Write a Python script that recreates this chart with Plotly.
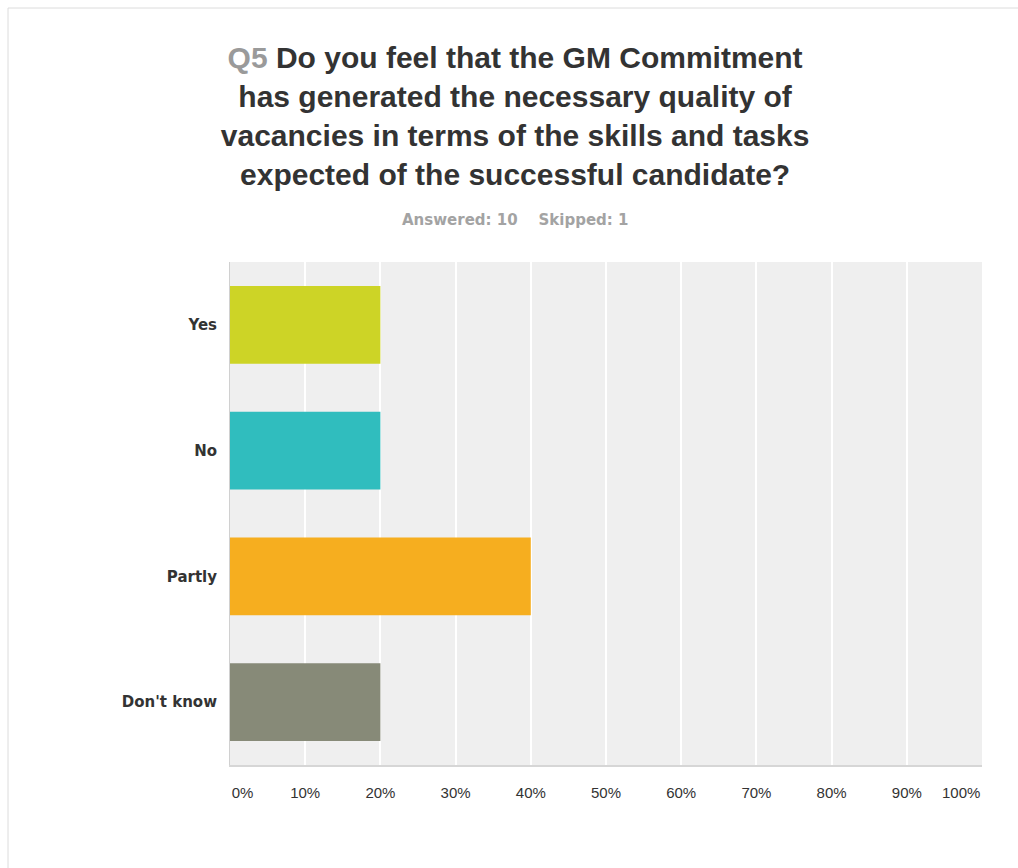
import plotly.graph_objects as go

# Survey responses (share of respondents, %)
answers = ["Yes", "No", "Partly", "Don't know"]
shares = [20, 20, 40, 20]
bar_colors = ["#cdd426", "#30bdbe", "#f6ae1f", "#878a78"]
tick_values = [0, 10, 20, 30, 40, 50, 60, 70, 80, 90, 100]
tick_labels = ["0%", "10%", "20%", "30%", "40%", "50%", "60%", "70%", "80%", "90%", "100%"]

W, H = 1018, 868
L, R, T, B = 230, 36, 262, 103
NB = "&nbsp;"
TICK_FONT = dict(family="Liberation Sans, Arial, sans-serif", size=15, color="#333333")

# First label starts at the axis origin; the last one is right-aligned to the
# axis end (drawn separately below) so both stay within the plot width
shown_labels = list(tick_labels)
shown_labels[0] = NB * 6 + tick_labels[0]
shown_labels[-1] = ""

fig = go.Figure(
    go.Bar(
        x=shares,
        y=answers,
        orientation="h",
        width=0.62,
        marker=dict(color=bar_colors, line=dict(width=0)),
        hoverinfo="x+y",
    )
)

fig.update_layout(
    width=W,
    height=H,
    margin=dict(l=L, r=R, t=T, b=B, autoexpand=False),
    paper_bgcolor="white",
    plot_bgcolor="#efefef",
    showlegend=False,
    title=dict(
        text=("<span style='color:#9a9a9a'>Q5</span> Do you feel that the GM Commitment<br>"
              "has generated the necessary quality of<br>"
              "vacancies in terms of the skills and tasks<br>"
              "expected of the successful candidate?"),
        font=dict(family="Liberation Sans, Arial, sans-serif", size=30, color="#333333",
                  weight="bold"),
        xref="container", x=0.506, xanchor="center",
        yref="container", y=1 - 68 / H, yanchor="top",
        pad=dict(t=0, b=0),
    ),
    xaxis=dict(
        range=[0, 100],
        tickvals=tick_values,
        ticktext=shown_labels,
        automargin=False,
        showgrid=True,
        gridcolor="white",
        gridwidth=2,
        zeroline=False,
        showline=True,
        linecolor="#d6d6d6",
        linewidth=2,
        ticks="",
        ticklabelstandoff=13,
        tickfont=TICK_FONT,
        fixedrange=True,
    ),
    yaxis=dict(
        autorange="reversed",
        automargin=False,
        showgrid=False,
        zeroline=False,
        showline=True,
        linecolor="#d0d0d0",
        linewidth=1,
        ticks="",
        ticklabelstandoff=9,
        tickfont=dict(family="DejaVu Sans, Verdana, sans-serif", size=15, color="#333333",
                      weight="bold"),
        fixedrange=True,
    ),
    bargap=0.38,
)

# Last x tick label, right-aligned at the end of the axis
fig.add_annotation(
    text=tick_labels[-1],
    xref="x", yref="paper",
    x=tick_values[-1], y=0,
    xanchor="right", yanchor="middle",
    yshift=-27,
    showarrow=False,
    font=TICK_FONT,
)

# Response counts line under the question
fig.add_annotation(
    text="Answered: 10" + NB * 4 + "Skipped: 1",
    xref="paper", yref="paper",
    x=(515 - L) / (W - L - R), y=(H - B - 220) / (H - T - B),
    xanchor="center", yanchor="middle",
    showarrow=False,
    font=dict(family="DejaVu Sans, Verdana, sans-serif", size=15, color="#a3a3a3",
              weight="bold"),
)

# Card outline around the question
fig.add_shape(
    type="rect", xref="paper", yref="paper",
    x0=(8 - L) / (W - L - R), x1=(1040 - L) / (W - L - R),
    y0=(H - B - 900) / (H - T - B), y1=(H - B - 8) / (H - T - B),
    line=dict(color="#dcdcdc", width=1),
    fillcolor="rgba(0,0,0,0)",
    layer="below",
)

fig.write_html("out.html")
